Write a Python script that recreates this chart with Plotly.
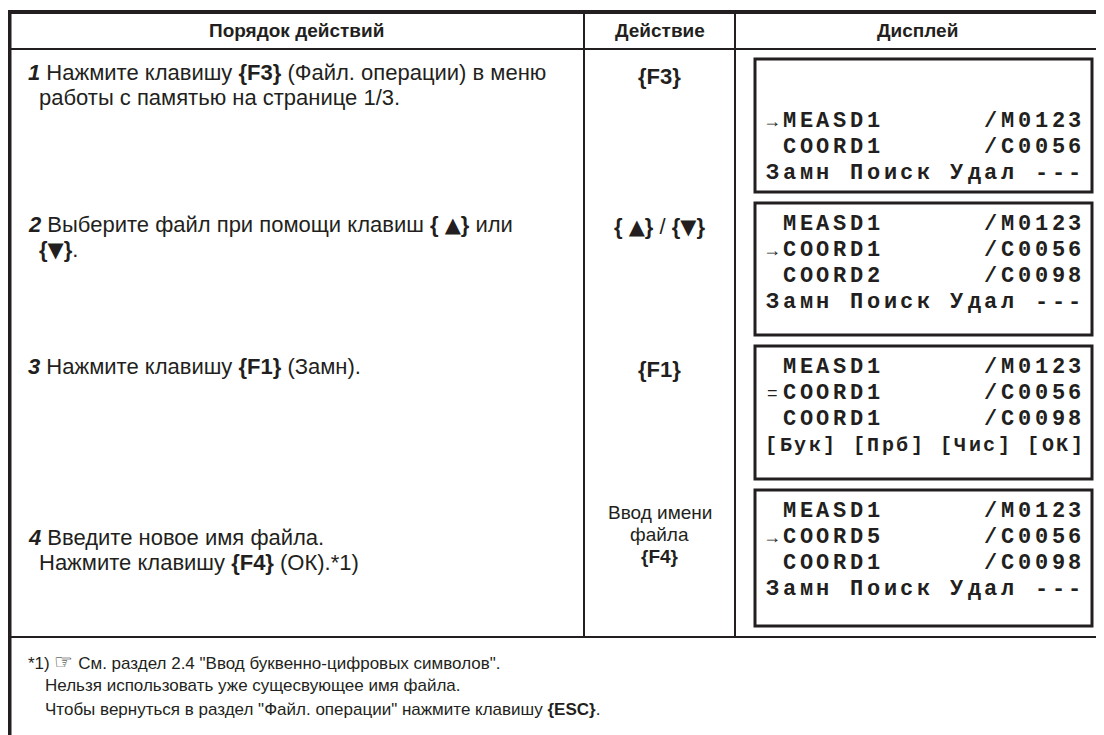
import plotly.graph_objects as go

# ---------------- data ----------------
headers = ["Порядок действий", "Действие", "Дисплей"]
step_numbers = ["1", "2", "3", "4"]
TRI = "<span style=\"font-family:DejaVu Sans;font-size:21px\">{}</span>"
step_lines = [
    ["Нажмите клавишу <b>{F3}</b> (Файл. операции) в меню", "работы с памятью на странице 1/3."],
    ["Выберите файл при помощи клавиш <b>{ " + TRI.format("▲") + "}</b> или", "<b>{" + TRI.format("▼") + "}</b>."],
    ["Нажмите клавишу <b>{F1}</b> (Замн)."],
    ["Введите новое имя файла.", "Нажмите клавишу <b>{F4}</b> (ОК).*1)"],
]
actions = [
    ["<b>{F3}</b>"],
    ["<b>{ " + TRI.format("▲") + "}</b> / <b>{" + TRI.format("▼") + "}</b>"],
    ["<b>{F1}</b>"],
    ["Ввод имени", "файла", "<b>{F4}</b>"],
]
screens = [
    ["", "→MEASD1      /M0123", " COORD1      /C0056", "Замн Поиск Удал ---"],
    [" MEASD1      /M0123", "→COORD1      /C0056", " COORD2      /C0098", "Замн Поиск Удал ---"],
    [" MEASD1      /M0123", "=COORD1      /C0056", " COORD1      /C0098", "[Бук] [Прб] [Чис] [ОК]"],
    [" MEASD1      /M0123", "→COORD5      /C0056", " COORD1      /C0098", "Замн Поиск Удал ---"],
]
footnotes = [
    "*1) <span style=\"font-size:21px\">☞</span> См. раздел 2.4 \"Ввод буквенно-цифровых символов\".",
    "Нельзя использовать уже сущесвующее имя файла.",
    "Чтобы вернуться в раздел \"Файл. операции\" нажмите клавишу <b>{ESC}</b>.",
]

# ---------------- layout constants ----------------
W, H = 1104, 735
OFF = 8  # page body margin compensation
INK = "#231f20"
SANS = "Liberation Sans, Arial, sans-serif"
MONO = "Liberation Mono, DejaVu Sans Mono, monospace"

left_x, col1_x, col2_x = 9, 584, 735
top_y, head_y, body_bottom = 12, 49, 637
box_x0, box_x1 = 755, 1092
box_tops = [59, 203, 346, 490]
box_bots = [192, 335, 479, 626]
line_offs = [[0, 62, 88, 114], [21, 47, 73, 99], [21, 47, 73, 99], [21, 47, 73, 99]]
step_y = [72, 224, 366, 537]
step_gap = 25

fig = go.Figure()
shapes = []
ann = []


def line(x0, y0, x1, y1, w):
    shapes.append(dict(type="line", xref="x", yref="y", x0=x0, y0=y0, x1=x1, y1=y1,
                       line=dict(color=INK, width=w)))


def text(x, y, s, size=22, anchor="left", family=SANS):
    ann.append(dict(x=x, y=y, xref="x", yref="y", text=s, showarrow=False,
                    xanchor=anchor, yanchor="middle", borderpad=0,
                    font=dict(family=family, size=size, color=INK)))


# table frame
line(left_x, top_y, W + OFF, top_y, 4)
line(left_x, top_y - 2, left_x, H + OFF, 5)
line(left_x, head_y, W + OFF, head_y, 2)
line(col1_x, top_y, col1_x, body_bottom, 2)
line(col2_x, top_y, col2_x, body_bottom, 2)
line(left_x, body_bottom, W + OFF, body_bottom, 2)

# headers
text((left_x + col1_x) / 2, 30, "<b>" + headers[0] + "</b>", 19, "center")
text((col1_x + col2_x) / 2, 30, "<b>" + headers[1] + "</b>", 19, "center")
text(917, 30, "<b>" + headers[2] + "</b>", 19, "center")

# steps
for i, (num, lines) in enumerate(zip(step_numbers, step_lines)):
    y = step_y[i]
    for j, s in enumerate(lines):
        if j == 0:
            text(27, y, "<b><i>" + num + "</i></b> " + s, 22)
        else:
            text(38, y + j * step_gap, s, 22)

# actions
act_y = [76, 226, 369, 512]
for i, lines in enumerate(actions):
    n = len(lines)
    for j, s in enumerate(lines):
        yy = act_y[i] + j * 22 if n > 1 else act_y[i]
        text((col1_x + col2_x) / 2, yy, s, 19 if n > 1 else 22, "center")

# display boxes
for i, scr in enumerate(screens):
    t, b = box_tops[i], box_bots[i]
    shapes.append(dict(type="rect", xref="x", yref="y", x0=box_x0, x1=box_x1, y0=t, y1=b,
                       line=dict(color=INK, width=3), fillcolor="white"))
    for k, s in enumerate(scr):
        y = t + line_offs[i][k]
        n = len(s)
        step = 16.8 if n <= 19 else 320 / n
        for c, ch in enumerate(s):
            if ch == " ":
                continue
            cx = 764 + step * (c + 0.5)
            if ch in "→=":
                text(cx, y, ch, 18, "center", SANS)
            else:
                text(cx, y, "<b>" + ch + "</b>", 22 if n <= 19 else 20, "center", MONO)

# footnotes
fn_y = [661, 685, 709]
for j, s in enumerate(footnotes):
    text(27 if j == 0 else 44, fn_y[j], s, 17, "left", SANS)

fig.update_layout(
    width=W, height=H, margin=dict(l=0, r=0, t=0, b=0),
    paper_bgcolor="white", plot_bgcolor="white",
    xaxis=dict(range=[OFF, W + OFF], visible=False, fixedrange=True),
    yaxis=dict(range=[H + OFF, OFF], visible=False, fixedrange=True),
    shapes=shapes, annotations=ann, showlegend=False,
)
fig.write_html("out.html")
